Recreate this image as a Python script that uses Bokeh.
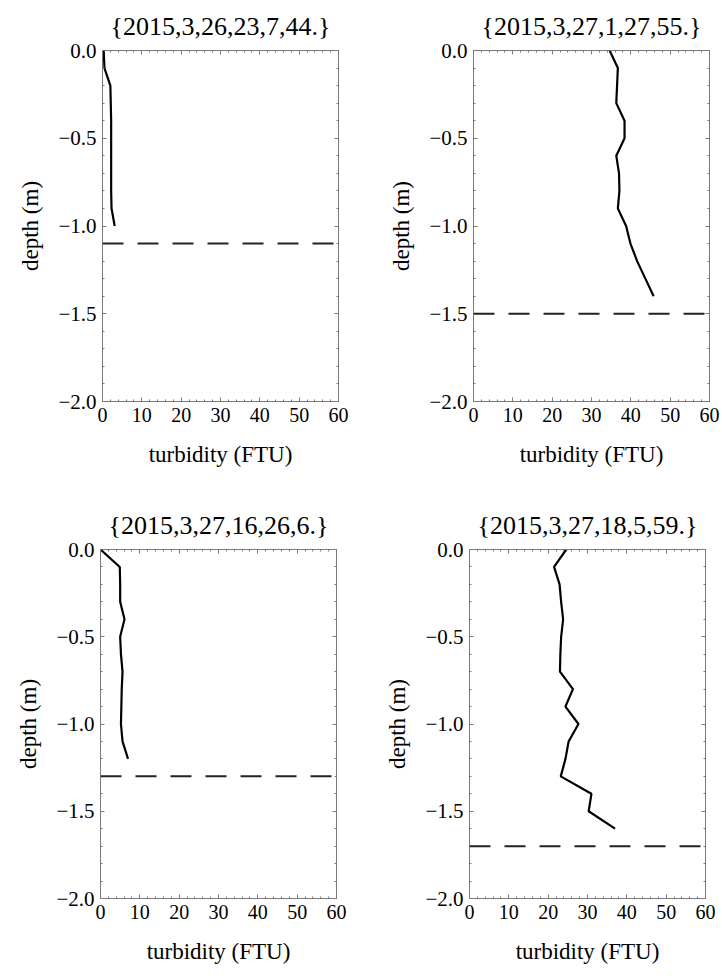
from bokeh.plotting import figure
from bokeh.layouts import column, row
from bokeh.models import FixedTicker, CustomJSTickFormatter, LinearAxis, Span, Range1d
from bokeh.embed import file_html
from bokeh.resources import INLINE

# ---- data ----
titles = ["{2015,3,26,23,7,44.}", "{2015,3,27,1,27,55.}",
          "{2015,3,27,16,26,6.}", "{2015,3,27,18,5,59.}"]

depth1 = [0.0, -0.1, -0.2, -0.3, -0.4, -0.5, -0.6, -0.7, -0.8, -0.9, -1.0]
turb1 = [0.3, 0.5, 2.0, 2.1, 2.2, 2.2, 2.2, 2.2, 2.2, 2.3, 3.1]
bottom1 = -1.1

depth2 = [0.0, -0.1, -0.2, -0.3, -0.4, -0.5, -0.6, -0.7, -0.8, -0.9, -1.0, -1.1, -1.2, -1.3, -1.4]
turb2 = [34.6, 36.7, 36.5, 36.3, 38.4, 38.4, 36.3, 37.0, 37.1, 36.7, 38.8, 39.9, 41.6, 43.7, 45.8]
bottom2 = -1.5

depth3 = [0.0, -0.1, -0.2, -0.3, -0.4, -0.5, -0.6, -0.7, -0.8, -0.9, -1.0, -1.1, -1.2]
turb3 = [0.0, 4.9, 5.0, 5.0, 6.1, 5.0, 5.2, 5.6, 5.4, 5.3, 5.2, 5.6, 7.0]
bottom3 = -1.3

depth4 = [0.0, -0.1, -0.2, -0.3, -0.4, -0.5, -0.6, -0.7, -0.8, -0.9, -1.0, -1.1, -1.2, -1.3, -1.4, -1.5, -1.6]
turb4 = [24.6, 21.5, 22.9, 23.3, 23.8, 23.3, 23.1, 23.0, 26.3, 24.4, 27.7, 25.2, 24.4, 23.2, 31.0, 30.3, 37.0]
bottom4 = -1.7

x_ticks = [0, 10, 20, 30, 40, 50, 60]
x_minor = [v for v in range(0, 61, 2)]
y_ticks = [-2.0, -1.5, -1.0, -0.5, 0.0]
y_minor = [round(-2.0 + 0.1 * i, 1) for i in range(21)]

FONT = "Liberation Serif"
FRAME = "#7a7a7a"

yfmt_code = """
const v = Math.abs(tick) < 1e-9 ? 0 : tick;
return v.toFixed(1).replace('-', '\u2212');
"""


def style_axis(ax):
    ax.axis_line_color = FRAME
    ax.major_tick_line_color = FRAME
    ax.minor_tick_line_color = FRAME
    ax.major_tick_in = 4
    ax.major_tick_out = 0
    ax.minor_tick_in = 2
    ax.minor_tick_out = 0
    ax.major_label_text_font = FONT
    ax.major_label_text_color = "black"
    ax.axis_label_text_font = FONT
    ax.axis_label_text_font_style = "normal"
    ax.axis_label_text_color = "black"


def make_panel(title, turb, depth, bottom, w, h, bl, bt):
    p = figure(width=w, height=h, output_backend="svg", toolbar_location=None,
               x_range=Range1d(0, 60), y_range=Range1d(-2, 0),
               min_border_left=bl, min_border_top=bt,
               min_border_right=w - bl - 236, min_border_bottom=h - bt - 353,
               x_axis_label="turbidity (FTU)", y_axis_label="depth (m)")
    p.title.text = title
    p.title.text_font = FONT
    p.title.text_font_size = "26px"
    p.title.text_font_style = "normal"
    p.title.text_color = "black"
    p.title.align = "center"
    p.title.offset = 0
    p.title.standoff = 19
    p.xgrid.visible = False
    p.ygrid.visible = False
    p.outline_line_color = FRAME
    p.background_fill_color = "white"
    p.border_fill_color = "white"

    xa = p.xaxis[0]
    xa.ticker = FixedTicker(ticks=x_ticks, minor_ticks=x_minor)
    style_axis(xa)
    xa.major_label_text_font_size = "20px"
    xa.major_label_standoff = 6
    xa.axis_label_text_font_size = "23px"
    xa.axis_label_standoff = 17

    ya = p.yaxis[0]
    ya.ticker = FixedTicker(ticks=y_ticks, minor_ticks=y_minor)
    ya.formatter = CustomJSTickFormatter(code=yfmt_code)
    style_axis(ya)
    ya.major_label_text_font_size = "21px"
    ya.major_label_standoff = 6
    ya.axis_label_text_font_size = "23px"
    ya.axis_label_standoff = 12

    empty = CustomJSTickFormatter(code="return '';")
    top = LinearAxis(ticker=FixedTicker(ticks=x_ticks, minor_ticks=x_minor),
                     formatter=empty, major_label_standoff=0)
    style_axis(top)
    top.major_label_text_font_size = "1px"
    p.add_layout(top, "above")
    right = LinearAxis(ticker=FixedTicker(ticks=y_ticks, minor_ticks=y_minor),
                       formatter=empty, major_label_standoff=0)
    style_axis(right)
    right.major_label_text_font_size = "1px"
    p.add_layout(right, "right")

    p.line(turb, depth, line_color="black", line_width=2.2)
    p.add_layout(Span(location=bottom, dimension="width", line_color="#222222",
                      line_width=2, line_dash="21 14"))
    return p


p1 = make_panel(titles[0], turb1, depth1, bottom1, 361, 480, 102, 48)
p2 = make_panel(titles[1], turb2, depth2, bottom2, 361, 480, 112, 49)
p3 = make_panel(titles[2], turb3, depth3, bottom3, 361, 498, 100, 65)
p4 = make_panel(titles[3], turb4, depth4, bottom4, 361, 498, 108, 69)

layout = column(row(p1, p2), row(p3, p4))

open("out.html", "w").write(file_html(layout, INLINE))
